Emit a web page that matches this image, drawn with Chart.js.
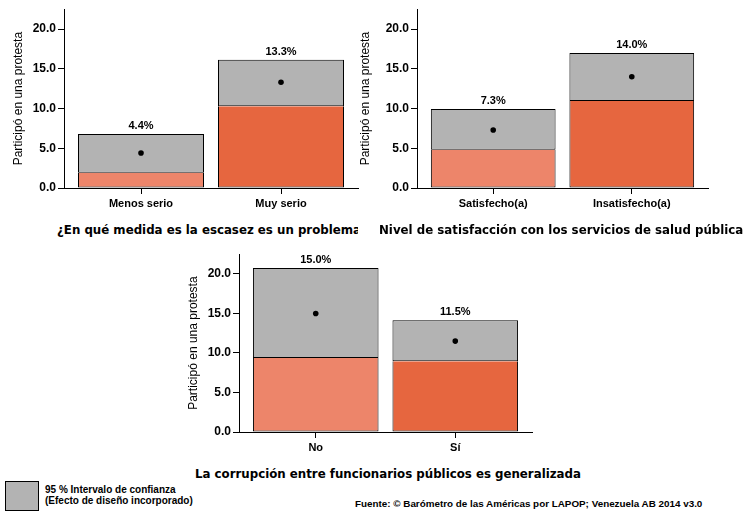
<!DOCTYPE html>
<html>
<head>
<meta charset="utf-8">
<script src="https://cdn.jsdelivr.net/npm/chart.js@4.4.1/dist/chart.umd.min.js"></script>
<style>
  body { margin: 0; background: #fff; font-family: 'Liberation Sans', Arial, sans-serif; }
  #page { position: relative; width: 750px; height: 512px; overflow: hidden; }
  .box { position: absolute; }
  .ptitle { position: absolute; font-family: 'DejaVu Sans', sans-serif; font-weight: bold; font-size: 11.8px; white-space: nowrap; color: #000; }
  .note { position: absolute; font-weight: bold; font-size: 10px; color: #000; line-height: 11px; white-space: nowrap; }
</style>
</head>
<body>
<div id="page">
  <div class="box" id="wrap1"><canvas id="chart1"></canvas></div>
  <div class="box" id="wrap2"><canvas id="chart2"></canvas></div>
  <div class="box" id="wrap3"><canvas id="chart3"></canvas></div>

  <div class="ptitle" style="left:57px; top:223px; width:301px; overflow:hidden;">¿En qué medida es la escasez es un problema</div>
  <div class="ptitle" style="left:379px; top:223px;">Nivel de satisfacción con los servicios de salud pública</div>
  <div class="ptitle" style="left:195px; top:467px;">La corrupción entre funcionarios públicos es generalizada</div>

  <div style="position:absolute; left:5px; top:481px; width:32px; height:28px; background:#B3B3B3; border:1px solid #000;"></div>
  <div class="note" style="left:45px; top:484px;">95 % Intervalo de confianza<br>(Efecto de diseño incorporado)</div>
  <div class="note" style="left:355px; top:498px; font-size:9.85px;">Fuente: © Barómetro de las Américas por LAPOP; Venezuela AB 2014 v3.0</div>
</div>

<script>
// participation in a protest (%), mean plus 95% CI bounds
const escasezLabels = ['Menos serio', 'Muy serio'];
const escasezMean = [4.4, 13.3];
const escasezLow = [1.93, 10.3];
const escasezHigh = [6.8, 16.15];

const saludLabels = ['Satisfecho(a)', 'Insatisfecho(a)'];
const saludMean = [7.3, 14.0];
const saludLow = [4.8, 10.95];
const saludHigh = [9.95, 17.0];

const corrupLabels = ['No', 'Sí'];
const corrupMean = [15.0, 11.5];
const corrupLow = [9.35, 8.95];
const corrupHigh = [20.75, 14.15];

const yTicks = [0, 5, 10, 15, 20];

const LIGHT = '#ED856A';
const DARK = '#E6663F';
const GRAY = '#B3B3B3';
const FONT = "'Liberation Sans', Arial, sans-serif";

// writes "13.3%" above each CI box
const meanLabels = {
  id: 'meanLabels',
  afterDatasetsDraw(chart) {
    const meta = chart.getDatasetMeta(0);
    const means = chart.data.datasets[2].data;
    const ctx = chart.ctx;
    ctx.save();
    ctx.font = 'bold 11px ' + FONT;
    ctx.fillStyle = '#000';
    ctx.textAlign = 'center';
    ctx.textBaseline = 'alphabetic';
    meta.data.forEach(function(bar, i) {
      ctx.fillText(means[i].y.toFixed(1) + '%', bar.x, bar.y - 5);
    });
    ctx.restore();
  }
};

function makePanel(id, wrapId, box, labels, mean, low, high, titlePad) {
  // box = chart area in page pixels
  const wrap = document.getElementById(wrapId);
  wrap.style.left = (box.left - 64) + 'px';
  wrap.style.top = (box.top - 8) + 'px';
  wrap.style.width = (box.right - box.left + 72) + 'px';
  wrap.style.height = (box.bottom - box.top + 8 + 34) + 'px';

  const xs = labels.map(function(l, i) { return i + 1; });

  const data = {
    datasets: [
      {
        type: 'bar',
        data: xs.map(function(x, i) { return { x: x, y: [low[i], high[i]] }; }),
        backgroundColor: GRAY,
        borderColor: '#000',
        borderWidth: 1,
        borderSkipped: false,
        grouped: false,
        barPercentage: 0.9,
        categoryPercentage: 1.0,
        order: 2
      },
      {
        type: 'bar',
        data: xs.map(function(x, i) { return { x: x, y: [0, low[i]] }; }),
        backgroundColor: [LIGHT, DARK],
        borderColor: '#000',
        borderWidth: 1,
        borderSkipped: 'top',
        grouped: false,
        barPercentage: 0.9,
        categoryPercentage: 1.0,
        order: 1
      },
      {
        type: 'scatter',
        data: xs.map(function(x, i) { return { x: x, y: mean[i] }; }),
        backgroundColor: '#000',
        borderWidth: 0,
        pointRadius: 2.8,
        order: 0
      }
    ]
  };

  const yTitle = titlePad == null ? { display: false } : {
    display: true,
    text: 'Participó en una protesta',
    color: '#000',
    font: { family: FONT, size: 12 },
    padding: { top: titlePad, bottom: 0 }
  };

  return new Chart(document.getElementById(id), {
    data: data,
    plugins: [meanLabels],
    options: {
      responsive: true,
      maintainAspectRatio: false,
      animation: false,
      layout: { padding: { top: 8, right: 8, left: 0, bottom: 0 } },
      plugins: { legend: { display: false }, tooltip: { enabled: false } },
      scales: {
        x: {
          type: 'linear',
          min: 0.45,
          max: 2.55,
          offset: false,
          afterBuildTicks: function(scale) {
            scale.ticks = xs.map(function(v) { return { value: v }; });
          },
          afterFit: function(scale) { scale.height = 34; },
          ticks: {
            color: '#000',
            font: { family: FONT, size: 11, weight: 'bold' },
            padding: 3,
            maxRotation: 0,
            callback: function(v) { return labels[v - 1]; }
          },
          grid: { offset: false, drawOnChartArea: false, drawTicks: true, tickLength: 6, tickColor: '#000' },
          border: { display: true, color: '#000', width: 1 }
        },
        y: {
          min: 0,
          max: 22.5,
          afterBuildTicks: function(scale) {
            scale.ticks = yTicks.map(function(v) { return { value: v }; });
          },
          afterFit: function(scale) { scale.width = 64; },
          ticks: {
            color: '#000',
            font: { family: FONT, size: 12, weight: 'bold' },
            padding: 2,
            callback: function(v) { return v.toFixed(1); }
          },
          title: yTitle,
          grid: { drawOnChartArea: false, drawTicks: true, tickLength: 6, tickColor: '#000' },
          border: { display: true, color: '#000', width: 1 }
        }
      }
    }
  });
}

makePanel('chart1', 'wrap1', { left: 64, right: 358, top: 8, bottom: 188 },
  escasezLabels, escasezMean, escasezLow, escasezHigh, 11);
makePanel('chart2', 'wrap2', { left: 417, right: 708, top: 8, bottom: 188 },
  saludLabels, saludMean, saludLow, saludHigh, 5);
makePanel('chart3', 'wrap3', { left: 239, right: 532, top: 253, bottom: 432 },
  corrupLabels, corrupMean, corrupLow, corrupHigh, 11);
</script>
</body>
</html>
